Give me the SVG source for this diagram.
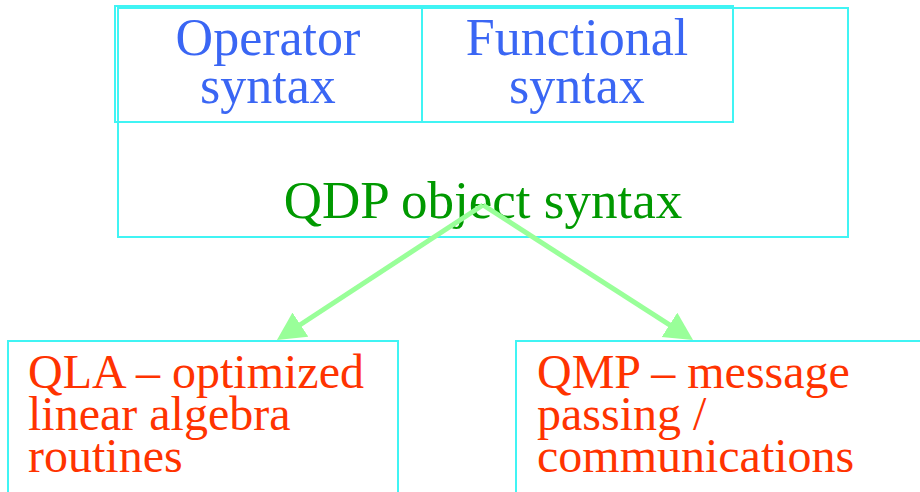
<svg xmlns="http://www.w3.org/2000/svg" width="920" height="492" viewBox="0 0 920 492">
<style>
.box{fill:none;stroke:#40F4F4;stroke-width:2}
.t{font-family:"Liberation Serif","Times New Roman",serif}
.blue{fill:#3A66F4;font-size:52px}
.green{fill:#009900;font-size:53px}
.red{fill:#FF3300;font-size:48px}
.conn{stroke:#99FF99;stroke-width:5;fill:none}
</style>
<defs>
<marker id="ah" markerUnits="userSpaceOnUse" markerWidth="30" markerHeight="30" refX="8" refY="14.5" orient="auto" viewBox="0 0 30 30">
<path d="M0,0 L28,14.5 L0,29 z" fill="#99FF99"/>
</marker>
</defs>
<rect x="0" y="0" width="920" height="492" fill="#ffffff"/>
<g id="qdp">
<rect class="box" x="118" y="8" width="730" height="229"/>
<text class="t green" x="483" y="218" text-anchor="middle">QDP object syntax</text>
</g>
<g id="operator">
<rect class="box" x="115" y="6" width="307" height="116"/>
<text class="t blue" x="268" y="55" text-anchor="middle">Operator</text>
<text class="t blue" x="268" y="103" text-anchor="middle">syntax</text>
</g>
<g id="functional">
<rect class="box" x="422" y="6" width="311" height="116"/>
<text class="t blue" x="577" y="55" text-anchor="middle">Functional</text>
<text class="t blue" x="577" y="103" text-anchor="middle">syntax</text>
</g>
<g id="qla">
<rect class="box" x="8" y="341" width="390" height="170"/>
<text class="t red" x="28" y="388">QLA – optimized</text>
<text class="t red" x="28" y="430">linear algebra</text>
<text class="t red" x="28" y="472">routines</text>
</g>
<g id="qmp">
<rect class="box" x="516" y="341" width="420" height="170"/>
<text class="t red" x="537" y="388">QMP – message</text>
<text class="t red" x="537" y="430">passing /</text>
<text class="t red" x="537" y="472">communications</text>
</g>
<g id="connectors">
<line class="conn" x1="483" y1="205" x2="293.7" y2="329" marker-end="url(#ah)"/>
<line class="conn" x1="483" y1="205" x2="676.2" y2="329.2" marker-end="url(#ah)"/>
</g>
</svg>
